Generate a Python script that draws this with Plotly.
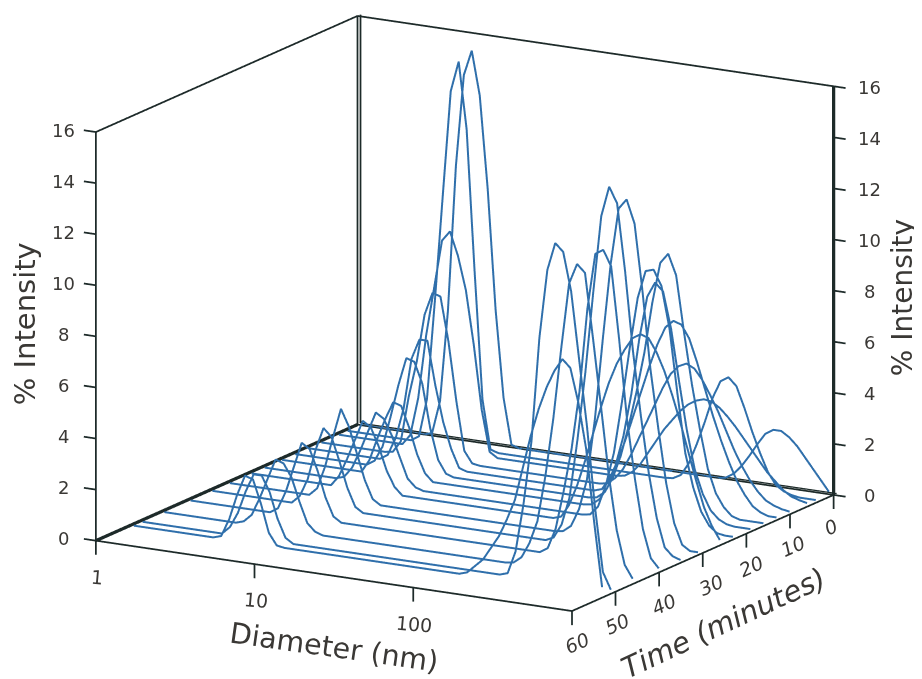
import math
import plotly.graph_objects as go

DIAMETER = [1.047, 1.175, 1.318, 1.479, 1.660, 1.862, 2.089, 2.344, 2.630, 2.951,
            3.311, 3.715, 4.169, 4.677, 5.248, 5.888, 6.607, 7.413, 8.318, 9.333,
            10.47, 11.75, 13.18, 14.79, 16.60, 18.62, 20.89, 23.44, 26.30, 29.51,
            33.11, 37.15, 41.69, 46.77, 52.48, 58.88, 66.07, 74.13, 83.18, 93.33,
            104.7, 117.5, 131.8, 147.9, 166.0, 186.2, 208.9, 234.4, 263.0, 295.1,
            331.1, 371.5, 416.9, 467.7, 524.8, 588.8, 660.7, 741.3, 831.8, 933.3]

TIMES = [0, 3, 5, 9, 12, 15, 18, 22, 25, 30, 34, 39, 45, 50, 52]

# nonzero bins of each run: (first bin index, intensities)
SMALL_PEAK = {
    0: (9, [0.1, 1.4, 5.0, 10.7, 14.3, 15.3, 13.6, 10.0, 5.3, 1.9, 0.1]),
    3: (9, [0.2, 1.7, 5.6, 9.8, 13.9, 15.1, 12.5, 7.0, 2.0, 0.1]),
    5: (8, [0, 0.4, 1.9, 4.4, 6.3, 8.2, 8.6, 7.7, 6.4, 4.3, 1.8, 0.2]),
    9: (9, [0.05, 0.5, 2.3, 3.7, 5.6, 6.5, 6.4, 4.7, 2.4, 0.5, 0.05]),
    12: (10, [0.2, 0.9, 2.1, 4.1, 4.9, 4.9, 3.2, 1.8, 0.8, 0.1]),
    15: (10, [0.2, 0.8, 2.0, 3.3, 4.4, 4.3, 3.5, 1.8, 0.6, 0.1]),
    18: (11, [0.5, 1.4, 2.2, 2.9, 2.8, 2.0, 1.0, 0.3]),
    22: (10, [0.1, 0.5, 1.2, 2.0, 2.8, 2.6, 2.0, 1.2, 0.4, 0.1]),
    25: (11, [0.4, 1.1, 1.9, 2.7, 2.5, 1.8, 0.9, 0.3]),
    30: (11, [0.3, 1.2, 2.4, 3.55, 2.9, 1.9, 0.9, 0.2]),
    34: (11, [0.3, 1.0, 2.2, 3.1, 2.8, 1.9, 0.9, 0.2]),
    39: (11, [0.2, 0.9, 1.9, 2.9, 2.7, 1.9, 0.9, 0.2]),
    45: (10, [0.1, 0.4, 1.1, 1.9, 2.7, 2.6, 2.1, 1.2, 0.4, 0.1]),
    50: (11, [0.3, 0.9, 1.8, 2.5, 2.5, 1.9, 0.9, 0.2]),
    52: (11, [0.1, 0.8, 1.8, 2.6, 2.5, 1.6, 0.5, 0.05]),
}
LARGE_PEAK = {
    0: (46, [0.05, 0.25, 0.6, 1.05, 1.55, 2.0, 2.2, 2.2, 2.0, 1.7, 1.3, 0.9, 0.5, 0.1]),
    3: (41, [0.03, 0.2, 0.7, 1.5, 2.4, 3.4, 4.1, 4.3, 4.0, 3.2, 2.3, 1.5, 0.8, 0.35, 0.15, 0.05]),
    5: (36, [0.05, 0.25, 0.6, 1.1, 1.6, 2.1, 2.5, 2.9, 3.2, 3.4, 3.5, 3.45, 3.25, 2.95, 2.6, 2.2, 1.8, 1.4, 1.0, 0.7, 0.4, 0.2, 0.1, 0.03]),
    9: (36, [0.05, 0.3, 0.7, 1.3, 2.0, 2.7, 3.4, 4.1, 4.7, 5.05, 5.2, 5.05, 4.65, 4.1, 3.5, 2.8, 2.1, 1.5, 1.0, 0.6, 0.3, 0.15, 0.05]),
    12: (37, [0.1, 0.6, 1.3, 2.2, 3.2, 4.2, 5.2, 6.1, 6.8, 7.1, 7.0, 6.5, 5.6, 4.6, 3.6, 2.7, 1.9, 1.2, 0.7, 0.3, 0.1]),
    15: (38, [0.05, 0.3, 0.9, 1.8, 3.0, 4.4, 6.0, 8.0, 9.6, 10.0, 9.2, 7.0, 5.0, 3.3, 1.8, 0.9, 0.4, 0.1]),
    18: (39, [0.05, 0.3, 0.8, 1.7, 2.9, 4.6, 6.8, 8.5, 9.1, 8.8, 7.4, 5.4, 3.5, 2.0, 1.1, 0.5, 0.2, 0.05]),
    22: (41, [0.05, 0.4, 1.3, 2.6, 4.6, 6.8, 8.8, 9.9, 10.0, 9.4, 7.8, 5.3, 3.0, 1.7, 0.8, 0.3, 0.05]),
    25: (39, [0.1, 0.6, 1.4, 2.4, 3.5, 4.6, 5.6, 6.4, 7.0, 7.5, 7.7, 7.6, 7.1, 6.4, 5.5, 4.5, 3.4, 2.3, 1.3, 0.6, 0.1]),
    30: (42, [0.05, 0.3, 1.0, 2.2, 4.6, 7.8, 10.8, 13.0, 13.4, 12.5, 9.9, 6.9, 4.6, 2.5, 1.0, 0.2]),
    34: (43, [0.15, 0.7, 1.8, 4.1, 6.8, 10.0, 13.0, 14.2, 13.6, 11.0, 7.9, 5.4, 3.2, 1.5, 0.4, 0.1]),
    39: (45, [0.2, 1.0, 2.5, 4.2, 6.5, 9.8, 12.0, 12.2, 11.6, 8.8, 5.7, 3.4, 1.5, 0.4, 0.05]),
    45: (44, [0.05, 0.3, 0.9, 1.8, 3.6, 5.9, 8.7, 11.3, 12.1, 11.8, 9.3, 6.7, 4.0, 1.9, 0.6, 0.1]),
    50: (46, [0.1, 1.0, 2.9, 5.4, 9.5, 12.2, 13.3, 13.0, 11.5, 8.9, 6.3, 3.2, 0.7, 0.05]),
    52: (42, [0.1, 0.4, 0.7, 1.2, 1.7, 2.4, 3.2, 4.5, 5.8, 6.9, 7.8, 8.5, 9.0, 8.7, 7.4, 5.6, 2.8, 0.3]),
}

D_TICKS = [1, 10, 100, 1000]
D_TICK_LABELS = ["1", "10", "100", ""]
T_TICKS = [0, 10, 20, 30, 40, 50, 60]
Z_TICKS = [0, 2, 4, 6, 8, 10, 12, 14, 16]

D_MIN, D_MAX, T_BACK, T_FRONT, Z_TOP = 1, 1000, 0, 60, 16
LEFT_TICK_END, RIGHT_TICK_END = 0.84, 1190
Z_TICK_END = -0.55
DOUBLE_GAP = -0.7

FRAME = "#1d2a29"
LINE = "#2f6fab"
TEXT = "#3a3835"
FONT = "DejaVu Sans"

fig = go.Figure()


def seg(x, y, z, w=2, color=FRAME):
    fig.add_trace(go.Scatter3d(x=x, y=y, z=z, mode="lines",
                               line=dict(color=color, width=w),
                               hoverinfo="skip", showlegend=False))


# frame
seg([D_MIN, D_MAX], [T_FRONT, T_FRONT], [0, 0], 3.5)
seg([D_MAX, D_MAX], [T_FRONT, T_BACK], [0, 0], 3.5)
seg([D_MIN, D_MIN], [T_FRONT, T_BACK], [0, 0], 6.5)
seg([D_MIN, D_MAX], [T_BACK, T_BACK], [0, 0], 3.5)
seg([D_MIN, D_MAX], [DOUBLE_GAP, DOUBLE_GAP], [0, 0], 2.5)
seg([D_MIN, D_MIN], [T_FRONT, T_FRONT], [0, Z_TOP], 3.5)
seg([D_MIN, D_MIN], [T_BACK, T_BACK], [0, Z_TOP], 3.5)
seg([D_MIN, D_MIN], [DOUBLE_GAP, DOUBLE_GAP], [0, Z_TOP], 3.5)
seg([D_MAX, D_MAX], [T_BACK, T_BACK], [0, Z_TOP], 6.5)
seg([D_MIN, D_MIN], [T_FRONT, T_BACK], [Z_TOP, Z_TOP], 3.5)
seg([D_MIN, D_MAX], [T_BACK, T_BACK], [Z_TOP, Z_TOP], 3.5)

# ticks
for d in D_TICKS:
    seg([d, d], [T_FRONT, T_FRONT], [0, Z_TICK_END], 3.5)
for t in T_TICKS:
    seg([D_MAX, D_MAX], [t, t], [0, Z_TICK_END], 3.5)
for z in Z_TICKS:
    seg([D_MIN, LEFT_TICK_END], [T_FRONT, T_FRONT], [z, z], 3.5)
    seg([D_MAX, RIGHT_TICK_END], [T_BACK, T_BACK], [z, z], 3.5)

# curves
for t in TIMES:
    values = [0.0] * len(DIAMETER)
    for start, part in (SMALL_PEAK[t], LARGE_PEAK[t]):
        for k, v in enumerate(part):
            values[start + k] = v
    fig.add_trace(go.Scatter3d(x=DIAMETER, y=[t] * len(DIAMETER), z=values,
                               mode="lines", line=dict(color=LINE, width=4),
                               name=f"{t} min", showlegend=False))

annotations = []


def label(text, d, y, z, dx, dy, size, angle=0, italic=False):
    annotations.append(dict(
        text=text, x=math.log10(d), y=y, z=z, xshift=dx, yshift=dy, textangle=angle,
        showarrow=False, xanchor="center", yanchor="middle",
        font=dict(family=FONT, size=size, color=TEXT,
                  style="italic" if italic else "normal")))


for z in Z_TICKS:
    label(str(z), D_MIN, T_FRONT, z, -32, 2, 18)
    label(str(z), D_MAX, T_BACK, z, 36, -1, 18)
for d, txt in zip(D_TICKS, D_TICK_LABELS):
    if txt:
        label(txt, d, T_FRONT, 0, 1, -36, 19, 5)
for t, dx in zip(T_TICKS, [-3, 3, 5, 8, 5, 1, 5]):
    label(str(t), D_MAX, t, 0, dx, -32, 19, -24, True)
label("% Intensity", D_MIN, T_FRONT, 8, -71, 13, 29, -90)
label("% Intensity", D_MAX, T_BACK, 8, 69, -7, 28, -90)
label("Diameter (nm)", 31.6, T_FRONT, 0, 0, -72, 28.5, 8)
label("Time (minutes)", D_MAX, 30, 0, 21, -70, 29, -25, True)


def axis(rng, log=False):
    return dict(visible=False, range=rng, type="log" if log else "linear",
                showspikes=False, showbackground=False, showgrid=False,
                zeroline=False)


VIEW = (0.483, -0.837, 0.256)
EYE_DIST = 2.0
CENTER = (0.0109, 0.0062, -0.0803)

fig.update_layout(
    width=922, height=679, margin=dict(l=0, r=0, t=0, b=0),
    paper_bgcolor="white", showlegend=False,
    scene=dict(
        domain=dict(x=[0, 1], y=[0, 1]),
        xaxis=axis([-0.1, 3.1], True),
        yaxis=axis([61.5, -1.5]),
        zaxis=axis([-0.8, 16.2]),
        aspectmode="manual",
        aspectratio=dict(x=1.727, y=1.619, z=1.323),
        camera=dict(projection=dict(type="orthographic"),
                    up=dict(x=0, y=0, z=1),
                    center=dict(x=CENTER[0], y=CENTER[1], z=CENTER[2]),
                    eye=dict(x=CENTER[0] + VIEW[0] * EYE_DIST,
                             y=CENTER[1] + VIEW[1] * EYE_DIST,
                             z=CENTER[2] + VIEW[2] * EYE_DIST)),
        annotations=annotations,
    ),
)
fig.write_html("out.html")
